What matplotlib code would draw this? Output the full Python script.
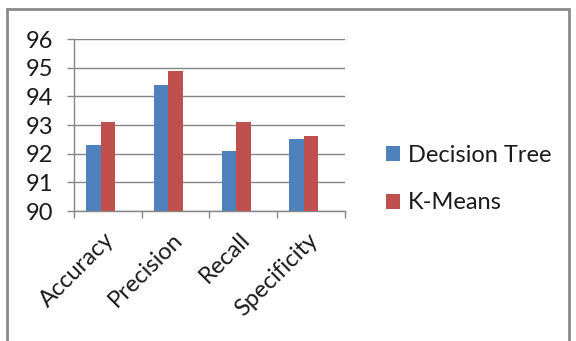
import matplotlib
matplotlib.use("Agg")
import matplotlib.pyplot as plt
import matplotlib.transforms as mtransforms
import numpy as np
from matplotlib.patches import Rectangle, Patch

categories = ["Accuracy", "Precision", "Recall", "Specificity"]
decision_tree = [92.3, 94.4, 92.1, 92.5]
k_means = [93.1, 94.9, 93.1, 92.6]
y_ticks = [90, 91, 92, 93, 94, 95, 96]

BLUE = "#4F81BD"
RED = "#C0504D"
GRID = "#868686"
FONT = ["Lato", "DejaVu Sans"]

plt.rcParams["font.family"] = FONT

fig = plt.figure(figsize=(5.76, 3.41), dpi=100)
W, H = 576, 341
ax = fig.add_axes([74 / W, 1 - 211 / H, (345 - 74) / W, (211 - 39) / H])

x = np.arange(len(categories))
bw = 0.213
# three-slot grouping: two series plus an empty slot, as in the office chart
ax.bar(x - bw, decision_tree, width=bw, color=BLUE, align="center", zorder=3)
ax.bar(x, k_means, width=bw, color=RED, align="center", zorder=3)

ax.set_xlim(-0.5, len(categories) - 0.5)
ax.set_ylim(y_ticks[0], y_ticks[-1])
ax.set_yticks(y_ticks)
ax.set_yticklabels([str(t) for t in y_ticks], fontsize=17, color="#1a1a1a")
ax.yaxis.grid(True, color=GRID, linewidth=1.0, zorder=0)
ax.tick_params(axis="y", length=5, width=1.0, color=GRID, pad=10)

# category boundary ticks on x axis
ax.set_xticks(np.arange(len(categories) + 1) - 0.5)
ax.set_xticklabels([])
ax.tick_params(axis="x", length=5, width=1.0, color=GRID, direction="out")
ax.set_xticks(x, minor=True)
ax.set_xticklabels(categories, minor=True, rotation=45, ha="right",
                   rotation_mode="anchor", fontsize=17, color="#1a1a1a")
ax.tick_params(axis="x", which="minor", length=0, pad=13)
shift = mtransforms.ScaledTranslation(-4 / 100, 0, fig.dpi_scale_trans)
for lbl in ax.get_xticklabels(minor=True):
    lbl.set_transform(lbl.get_transform() + shift)

for side in ["top", "right"]:
    ax.spines[side].set_visible(False)
ax.spines["left"].set_color(GRID)
ax.spines["bottom"].set_color(GRID)
ax.spines["left"].set_linewidth(1.0)
ax.spines["bottom"].set_linewidth(1.0)

handles = [Patch(facecolor=BLUE, label="Decision Tree"),
           Patch(facecolor=RED, label="K-Means")]
fig.legend(handles=handles, loc="center left",
           bbox_to_anchor=(365 / W, 1 - 179 / H), frameon=False,
           fontsize=17, handlelength=0.6, handleheight=0.6,
           handletextpad=0.3, labelspacing=1.13, labelcolor="#1a1a1a")

# outer chart frame
fig.patches.append(Rectangle((7 / W, -0.05), (569 - 7) / W, 1.05 - 9 / H,
                             transform=fig.transFigure, fill=False,
                             edgecolor="#8a8a8a", linewidth=2.0))

fig.savefig("out.png", dpi=100)
